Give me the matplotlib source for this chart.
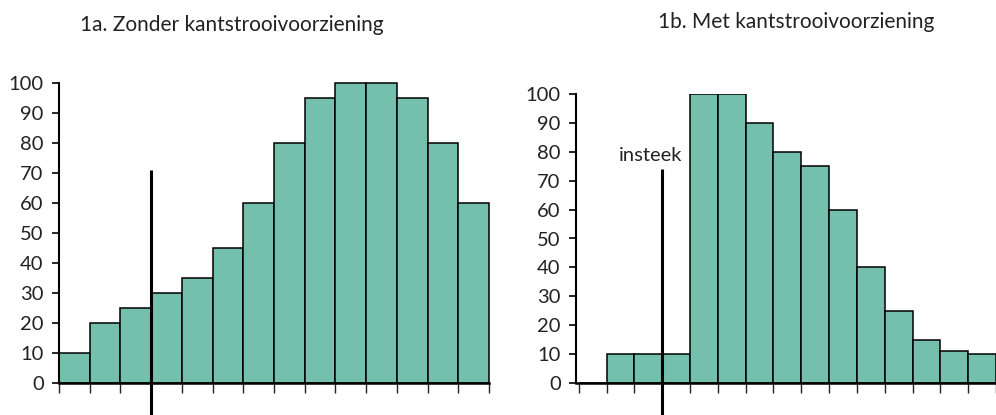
import matplotlib
matplotlib.use("Agg")
import matplotlib.pyplot as plt

plt.rcParams['font.family'] = ['Lato', 'DejaVu Sans']

# Data
titles = ["1a. Zonder kantstrooivoorziening", "1b. Met kantstrooivoorziening"]
values_a = [10, 20, 25, 30, 35, 45, 60, 80, 95, 100, 100, 95, 80, 60]
values_b = [0, 10, 10, 10, 100, 100, 90, 80, 75, 60, 40, 25, 15, 11, 10]
yticks = [0, 10, 20, 30, 40, 50, 60, 70, 80, 90, 100]
line_a = (3, 71)      # (bin edge, top value) of vertical marker
line_b = (3, 74)
label_b = "insteek"

W, H = 996, 415
fig = plt.figure(figsize=(W / 100, H / 100), dpi=100)

bar_color = "#75BFAD"

def setup(ax, values, xmin, xmax, line, label=None):
    x = list(range(len(values)))
    ax.bar(x, values, width=1.0, align='edge', color=bar_color,
           edgecolor='black', linewidth=1.1, zorder=2)
    ax.set_xlim(xmin, xmax)
    ax.set_ylim(0, 100)
    ax.set_yticks(yticks)
    ax.set_xticks(range(0, len(values) + 1))
    ax.set_xticklabels([])
    for s in ['top', 'right']:
        ax.spines[s].set_visible(False)
    ax.spines['left'].set_linewidth(1.5)
    ax.spines['bottom'].set_linewidth(1.8)
    ax.spines['left'].set_zorder(5)
    ax.spines['bottom'].set_zorder(5)
    ax.tick_params(axis='x', direction='out', length=7.5, width=1.0, color='#222222')
    ax.tick_params(axis='y', direction='out', length=5, width=1.2, pad=6,
                   labelsize=14.5, labelcolor='#222222')
    lx, ly = line
    ax.plot([lx, lx], [-11.5, ly], color='black', linewidth=2.2,
            clip_on=False, zorder=6, solid_capstyle='butt')
    if label:
        ax.text(lx - 0.42, ly + 4.8, label, ha='center', va='center',
                fontsize=14.5, color='#222222')

# left axes: x 59..489, y0 at 383, y100 at 83
axA = fig.add_axes([59 / W, (H - 383) / H, 430 / W, 300 / H])
setup(axA, values_a, 0, 14, line_a)
for b in axA.patches:
    b.set_clip_on(False)

# right axes: spine at 576, bin width ~28.46, y0 at 383, y100 at 94
bw = 28.46
axB = fig.add_axes([576 / W, (H - 383) / H, (W - 576) / W, 289 / H])
setup(axB, values_b, -0.1, (W - 576) / bw - 0.1, line_b, label_b)

fig.text(232 / W, 1 - 25 / H, titles[0], ha='center', va='center',
         fontsize=15, color='#222222')
fig.text(796 / W, 1 - 22 / H, titles[1], ha='center', va='center',
         fontsize=15, color='#222222')

fig.savefig("out.png", dpi=100)
